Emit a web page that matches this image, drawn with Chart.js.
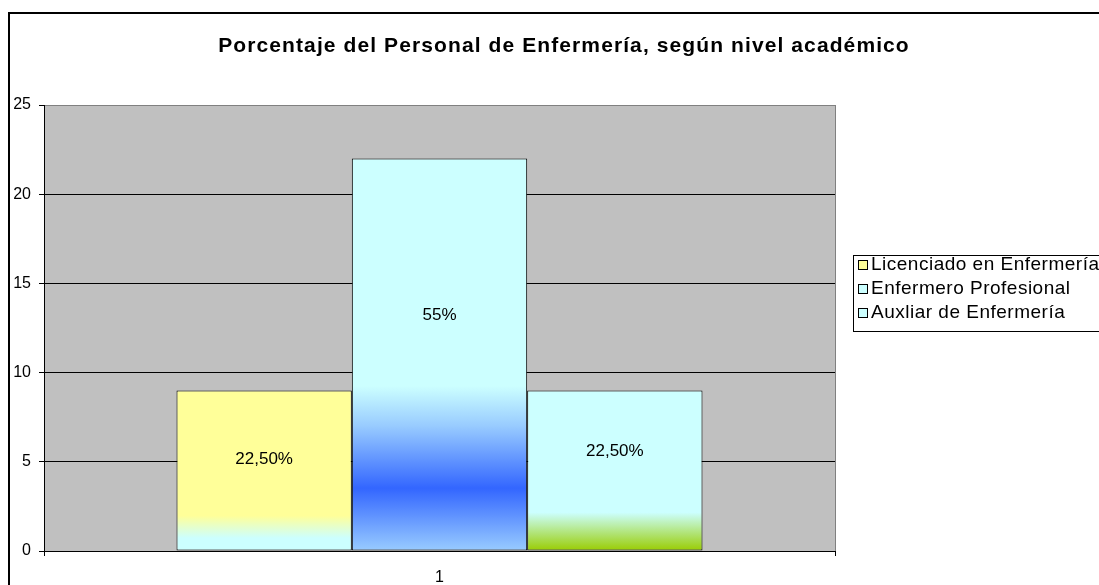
<!DOCTYPE html>
<html>
<head>
<meta charset="utf-8">
<script src="https://cdn.jsdelivr.net/npm/chart.js@4.4.0/dist/chart.umd.min.js"></script>
<style>
  html, body { margin: 0; padding: 0; background: #fff; overflow: hidden; }
  #wrap { position: absolute; left: 0; top: 0; width: 1126px; height: 600px; }
</style>
</head>
<body>
<div id="wrap"><canvas id="myChart" width="1126" height="600"></canvas></div>
<script>
// data
const categories = ['1'];
const seriesNames = ['Licenciado en Enfermería', 'Enfermero Profesional', 'Auxliar de Enfermería'];
const licenciado = [9];
const profesional = [22];
const auxiliar = [9];
const pctLabels = ['22,50%', '55%', '22,50%'];
const yTicks = [0, 5, 10, 15, 20, 25];
const chartTitle = 'Porcentaje del Personal de Enfermería, según nivel académico';

const FONT = '"Liberation Sans", Arial, sans-serif';

// gradient stops for each bar (top -> bottom)
const barStops = [
    [[0, '#FFFF99'], [0.78, '#FFFF99'], [0.92, '#CCFFFF'], [1, '#CCFFFF']],
    [[0, '#CCFFFF'], [0.58, '#CCFFFF'], [0.68, '#99CCFF'], [0.84, '#3366FF'], [1, '#99CCFF']],
    [[0, '#CCFFFF'], [0.76, '#CCFFFF'], [1, '#99CC00']]
];
const legendColors = ['#FFFF99', '#CCFFFF', '#CCFFFF'];
const labelAt = [0.57, 0.6, 0.62];

function barFill(i) {
    return function (ctx) {
        const chart = ctx.chart;
        if (!chart.chartArea || ctx.type !== 'data') return legendColors[i];
        const y = chart.scales.y;
        const top = y.getPixelForValue(ctx.raw);
        const bottom = y.getPixelForValue(0);
        const g = chart.ctx.createLinearGradient(0, top, 0, bottom);
        barStops[i].forEach(s => g.addColorStop(s[0], s[1]));
        return g;
    };
}

const frame = {
    id: 'frame',
    beforeDraw(chart) {
        const c = chart.ctx, a = chart.chartArea;
        c.save();
        c.fillStyle = '#C0C0C0';
        c.fillRect(a.left, a.top, a.right - a.left, a.bottom - a.top);
        c.strokeStyle = '#000';
        c.lineWidth = 2;
        c.strokeRect(9, 13, 1126, 600);

        // title
        c.fillStyle = '#000';
        c.font = 'bold 21px ' + FONT;
        c.letterSpacing = '1.1px';
        c.textAlign = 'center';
        c.textBaseline = 'middle';
        c.fillText(chartTitle, 564, 46);
        c.restore();
    },
    afterDraw(chart) {
        const c = chart.ctx, a = chart.chartArea;
        c.save();
        // right edge of plot area
        c.strokeStyle = '#808080';
        c.lineWidth = 1;
        c.beginPath();
        c.moveTo(Math.round(a.right) + 0.5, a.top);
        c.lineTo(Math.round(a.right) + 0.5, a.bottom);
        c.stroke();

        // legend box
        const lx = 853.5, ly = 255.5;
        c.fillStyle = '#fff';
        c.fillRect(lx, ly, 300, 76);
        c.strokeStyle = '#000';
        c.strokeRect(lx, ly, 300, 76);
        c.font = '19px ' + FONT;
        c.letterSpacing = '0.5px';
        c.textBaseline = 'middle';
        seriesNames.forEach((name, i) => {
            const cy = 265 + i * 24;
            c.fillStyle = legendColors[i];
            c.fillRect(858, cy - 5, 10, 10);
            c.strokeStyle = '#000';
            c.strokeRect(858.5, cy - 4.5, 9, 9);
            c.fillStyle = '#000';
            c.fillText(name, 871, cy);
        });
        c.restore();
    },
    afterDatasetsDraw(chart) {
        const c = chart.ctx, y = chart.scales.y;
        c.save();
        c.font = '17px ' + FONT;
        c.fillStyle = '#000';
        c.textAlign = 'center';
        c.textBaseline = 'middle';
        chart.data.datasets.forEach((ds, i) => {
            const bar = chart.getDatasetMeta(i).data[0];
            c.fillText(pctLabels[i], bar.x, y.getPixelForValue(ds.data[0] * labelAt[i]));
        });
        c.restore();
    }
};

new Chart(document.getElementById('myChart'), {
    type: 'bar',
    data: {
        labels: categories,
        datasets: [licenciado, profesional, auxiliar].map((d, i) => ({
            label: seriesNames[i],
            data: d,
            backgroundColor: barFill(i),
            borderColor: '#000',
            borderWidth: 1,
            borderSkipped: false,
            categoryPercentage: 0.665,
            barPercentage: 1
        }))
    },
    options: {
        responsive: false,
        animation: false,
        layout: { padding: { left: 8, right: 291, top: 105, bottom: 0 } },
        plugins: {
            legend: { display: false },
            tooltip: { enabled: false },
            title: { display: false }
        },
        scales: {
            x: {
                offset: true,
                grid: { display: true, drawOnChartArea: false, offset: true, tickLength: 5, color: '#000' },
                border: { color: '#000', width: 1 },
                ticks: { color: '#000', font: { family: FONT, size: 16 }, padding: 12 },
                afterFit(s) { s.height = 49; }
            },
            y: {
                min: 0,
                max: 25,
                afterBuildTicks(s) { s.ticks = yTicks.map(v => ({ value: v })); },
                grid: {
                    color: ctx => (ctx.tick && ctx.tick.value === 25 ? '#808080' : '#000'),
                    tickColor: '#000',
                    tickLength: 5
                },
                border: { color: '#000', width: 1 },
                ticks: { color: '#000', font: { family: FONT, size: 16 }, padding: 8 },
                afterFit(s) { s.width = 36; }
            }
        }
    },
    plugins: [frame]
});
</script>
</body>
</html>
